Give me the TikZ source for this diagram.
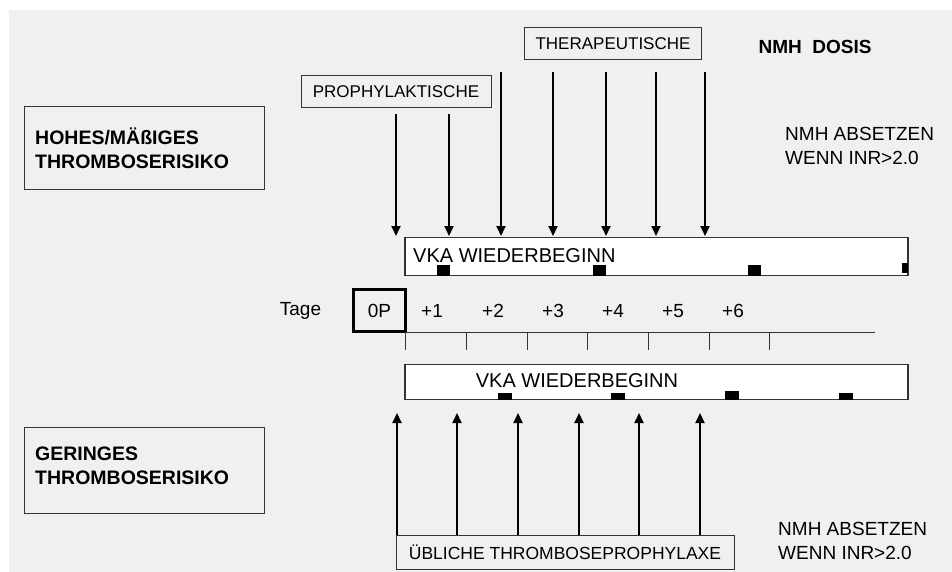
\documentclass[tikz,border=0pt]{standalone}
\usepackage{fontspec}
\setmainfont{Liberation Sans}
\usetikzlibrary{arrows.meta}
\definecolor{bg}{HTML}{F0F0F0}
\definecolor{edge}{HTML}{333333}
\tikzset{
  plainbox/.style={draw=edge, line width=1pt, inner sep=0pt},
  whitebox/.style={draw=edge, line width=1.2pt, fill=white, inner sep=0pt},
  lbl/.style={inner sep=0pt, font=\fontsize{19}{23.5}\selectfont},
  boldlbl/.style={inner sep=0pt, align=left, font=\fontsize{19.5}{24}\selectfont\bfseries},
  boxlbl/.style={inner sep=0pt, font=\fontsize{17}{20}\selectfont},
  arr/.style={line width=2pt, -{Triangle[length=10pt,width=9pt]}},
  blk/.style={fill=black},
  tickline/.style={draw=edge, line width=0.8pt}
}
\begin{document}
\begin{tikzpicture}[x=1pt,y=-1pt]
\useasboundingbox (0,0) rectangle (952,572);
\fill[white] (0,0) rectangle (952,572);
\fill[bg] (9,10) rectangle (952,572);

% left boxes
\node[plainbox, minimum width=240pt, minimum height=82pt] (hbox) at (144,148) {};
\node[boldlbl, anchor=west] (htxt) at (35,148) {HOHES/MÄßIGES\\THROMBOSERISIKO};
\node[plainbox, minimum width=240pt, minimum height=86pt] (gbox) at (144,470) {};
\node[boldlbl, anchor=west] (gtxt) at (35,466) {GERINGES\\THROMBOSERISIKO};

% top labels
\node[plainbox, minimum width=190pt, minimum height=32pt] (pbox) at (396,92) {};
\node[boxlbl] (ptxt) at (396,92) {PROPHYLAKTISCHE};
\node[plainbox, minimum width=177pt, minimum height=32pt] (tbox) at (613,44) {};
\node[boxlbl] (ttxt) at (613,44) {THERAPEUTISCHE};
\node[inner sep=0pt, font=\fontsize{19}{23}\selectfont\bfseries] (dosis) at (815,47) {NMH\ \ DOSIS};

% right texts
\node[lbl, anchor=west, align=left] (abs1) at (785,146) {NMH ABSETZEN\\WENN INR>2.0};
\node[lbl, anchor=west, align=left] (abs2) at (778,541) {NMH ABSETZEN\\WENN INR>2.0};

% top VKA box
\node[whitebox, minimum width=503pt, minimum height=38pt] (vtop) at (656.5,256.5) {};
\node[lbl, anchor=west, font=\fontsize{20}{24}\selectfont] (vtoptxt) at (413,256) {VKA WIEDERBEGINN};
\fill[blk] (437,265) rectangle (450,275.5);
\fill[blk] (593,265) rectangle (606,275.5);
\fill[blk] (748,265) rectangle (761,275.5);
\fill[blk] (902,263) rectangle (908,273);

% down arrows
\foreach \i/\x/\ys in {1/396/114,2/449/114,3/501/72,4/553/72,5/606/72,6/656/72,7/705/72}{
  \coordinate (ds\i) at (\x,\ys);
  \coordinate (de\i) at (\x,236);
  \draw[arr] (ds\i) -- (de\i);
}

% timeline
\node[lbl] (tage) at (300.5,311) {Tage};
\node[draw=black, line width=3pt, minimum width=52pt, minimum height=42pt, inner sep=0pt, font=\fontsize{19}{23}\selectfont] (zero) at (379.5,310.5) {0P};
\foreach \i/\x in {1/432,2/493,3/553,4/613,5/673,6/733}{
  \node[lbl] (d\i) at (\x,311) {+\i};
}
\coordinate (lineS) at (406,332);
\coordinate (lineE) at (875,332);
\draw[draw=edge, line width=0.9pt] (lineS) -- (lineE);
\foreach \i/\x in {0/405.5,1/466,2/527,3/587,4/648,5/709,6/769}{
  \coordinate (tk\i) at (\x,332);
  \coordinate (tb\i) at (\x,350);
  \draw[tickline] (tk\i) -- (tb\i);
}

% bottom VKA box
\node[whitebox, minimum width=503pt, minimum height=35pt] (vbot) at (656.5,382) {};
\node[lbl, font=\fontsize{20}{24}\selectfont] (vbottxt) at (577,381) {VKA WIEDERBEGINN};
\fill[blk] (498,392.5) rectangle (512,399.5);
\fill[blk] (611,392.5) rectangle (625,399.5);
\fill[blk] (725,390.5) rectangle (739,399.5);
\fill[blk] (839,392.5) rectangle (853,399.5);

% bottom box
\node[plainbox, minimum width=338pt, minimum height=34pt] (ubox) at (565,552) {};
\node[boxlbl, font=\fontsize{17.5}{20}\selectfont] (utxt) at (565,552) {ÜBLICHE THROMBOSEPROPHYLAXE};

% up arrows
\foreach \i/\x in {1/397,2/457,3/518,4/579,5/639,6/700}{
  \coordinate (us\i) at (\x,535);
  \coordinate (ue\i) at (\x,413);
  \draw[arr] (us\i) -- (ue\i);
}
\end{tikzpicture}
\end{document}
